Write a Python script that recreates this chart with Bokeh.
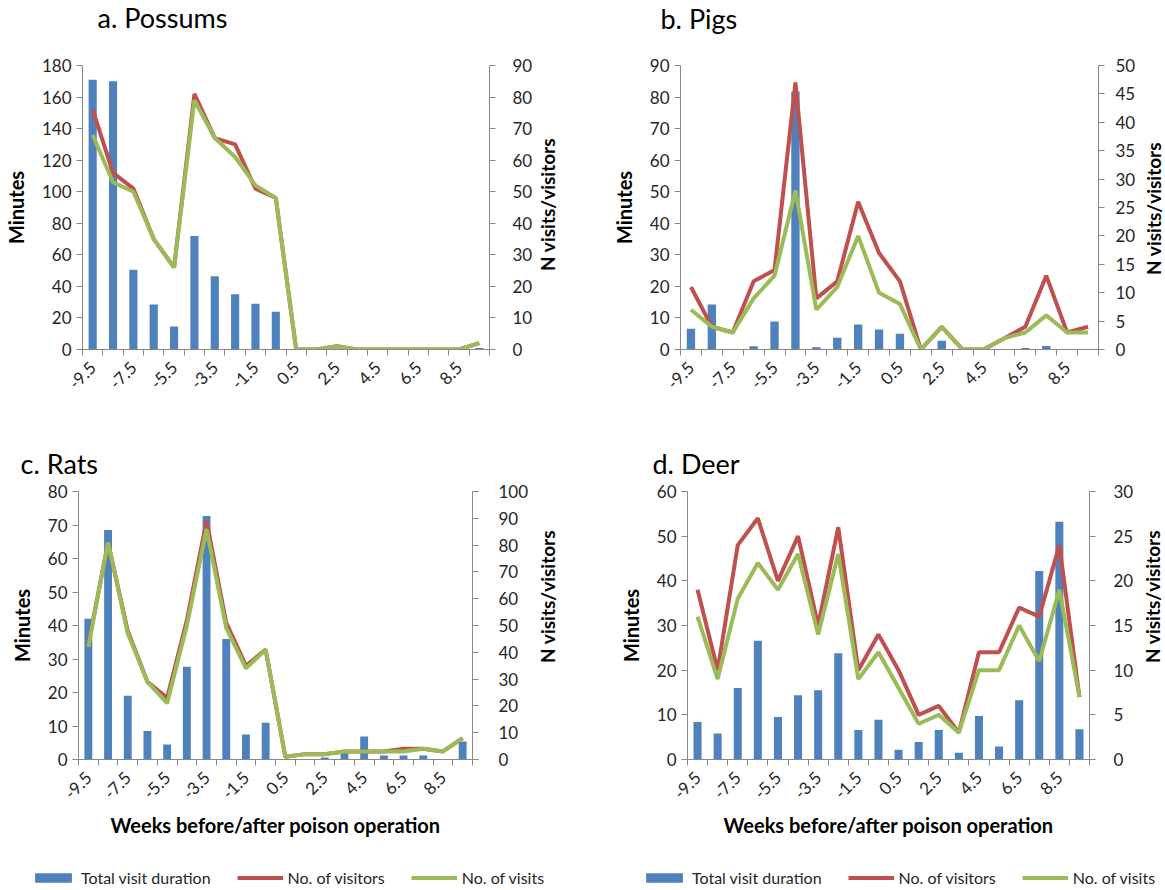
import math
from bokeh.plotting import figure
from bokeh.models import Range1d, LinearAxis, FixedTicker, Label, Legend, LegendItem
from bokeh.layouts import column, row
from bokeh.embed import file_html
from bokeh.resources import INLINE

# ---------------- data ----------------
weeks = [-9.5, -8.5, -7.5, -6.5, -5.5, -4.5, -3.5, -2.5, -1.5, -0.5,
         0.5, 1.5, 2.5, 3.5, 4.5, 5.5, 6.5, 7.5, 8.5, 9.5]
week_tick_labels = [-9.5, -7.5, -5.5, -3.5, -1.5, 0.5, 2.5, 4.5, 6.5, 8.5]
week_bounds = [-10, -9, -8, -7, -6, -5, -4, -3, -2, -1, 0,
               1, 2, 3, 4, 5, 6, 7, 8, 9, 10]

possums_minutes = [171, 170, 50.5, 28.5, 14.5, 72, 46.5, 35, 29, 24,
                   0, 0, 0, 0, 0, 0, 0, 0, 0, 1]
possums_visitors = [76, 56, 51, 35, 26, 81, 67, 65, 51, 48,
                    0, 0, 1, 0, 0, 0, 0, 0, 0, 2]
possums_visits = [68, 53, 50, 35, 26, 79, 67, 61, 52, 48,
                  0, 0, 1, 0, 0, 0, 0, 0, 0, 2]

pigs_minutes = [6.6, 14.3, 0, 1.0, 8.9, 81.8, 0.7, 3.7, 7.9, 6.3,
                5.0, 0, 2.8, 0, 0, 0, 0.5, 1.1, 0, 0]
pigs_visitors = [11, 4, 3, 12, 14, 47, 9, 12, 26, 17,
                 12, 0, 4, 0, 0, 2, 4, 13, 3, 4]
pigs_visits = [7, 4, 3, 9, 13, 28, 7, 11, 20, 10,
               8, 0, 4, 0, 0, 2, 3, 6, 3, 3]

rats_minutes = [42, 68.5, 19, 8.5, 4.5, 27.7, 72.7, 36, 7.5, 11,
                0, 0, 0.6, 2.3, 6.9, 1.2, 1.2, 1.2, 0, 5.4]
rats_visitors = [43, 81, 48, 29, 23, 52, 89, 51, 35, 41,
                 1, 2, 2, 3, 3, 3, 4, 4, 3, 8]
rats_visits = [42, 81, 47, 29, 21, 50, 86, 49, 34, 41,
               1, 2, 2, 3, 3, 3, 3, 4, 3, 8]

deer_minutes = [8.4, 5.8, 16, 26.6, 9.5, 14.4, 15.5, 23.8, 6.6, 8.9,
                2.2, 3.9, 6.6, 1.5, 9.75, 2.9, 13.25, 42.2, 53.2, 6.8]
deer_visitors = [19, 10, 24, 27, 20, 25, 15, 26, 10, 14,
                 10, 5, 6, 3, 12, 12, 17, 16, 24, 7]
deer_visits = [16, 9, 18, 22, 19, 23, 14, 23, 9, 12,
               8, 4, 5, 3, 10, 10, 15, 11, 19, 7]

panel_titles = ["a. Possums", "b. Pigs", "c. Rats", "d. Deer"]
series_names = ["Total visit duration", "No. of visitors", "No. of visits"]
left_title = "Minutes"
right_title = "N visits/visitors"
x_title = "Weeks before/after poison operation"

# ---------------- style ----------------
FONT = "Lato"
BLUE = "#4F81BD"
RED = "#C0504D"
GREEN = "#9BBB59"
AXIS_GRAY = "#888888"
TEXT = "#262626"
LW = 4


def style_axis(ax):
    ax.axis_line_color = AXIS_GRAY
    ax.major_tick_line_color = AXIS_GRAY
    ax.minor_tick_line_color = AXIS_GRAY
    ax.major_label_text_font = FONT
    ax.major_label_text_font_size = "17px"
    ax.major_label_text_color = TEXT
    ax.axis_label_text_font = FONT
    ax.axis_label_text_font_size = "20px"
    ax.axis_label_text_font_style = "bold"
    ax.axis_label_text_color = "#000000"


def bare(W, H):
    f = figure(width=W, height=H, output_backend="svg", toolbar_location=None,
               x_axis_type=None, y_axis_type=None, x_range=Range1d(-10, 10),
               y_range=Range1d(0, 1), min_border_left=0, min_border_right=0,
               min_border_top=0, min_border_bottom=0)
    f.outline_line_color = None
    f.grid.visible = False
    return f


def title_fig(W, H, text, tx, ty):
    f = bare(W, H)
    f.add_layout(Label(x=tx, y=ty, x_units="screen", y_units="screen",
                       text=text, text_font=FONT, text_font_size="27px",
                       text_color="#000000", text_baseline="alphabetic"))
    return f


def side_title_fig(W, H, tx, ty):
    f = bare(W, H)
    f.add_layout(Label(x=tx, y=ty, x_units="screen", y_units="screen",
                       text=right_title, angle=math.pi / 2,
                       text_font=FONT, text_font_size="19px", text_font_style="bold",
                       text_color="#000000", text_align="center",
                       text_baseline="middle"))
    return f


def legend_fig(W, H, dx, minutes, visitors, visits):
    # series renderers are hidden here; only their legend entries are shown
    f = bare(W, H)
    rb = f.vbar(x=weeks, top=minutes, width=0.4, fill_color=BLUE, line_color=None, visible=False)
    rr = f.line(x=weeks, y=visitors, line_color=RED, line_width=LW, visible=False)
    rg = f.line(x=weeks, y=visits, line_color=GREEN, line_width=LW, visible=False)
    leg = Legend(items=[LegendItem(label=series_names[0], renderers=[rb]),
                        LegendItem(label=series_names[1], renderers=[rr]),
                        LegendItem(label=series_names[2], renderers=[rg])],
                 location="left", orientation="horizontal",
                 padding=0, margin=dx, spacing=26, label_standoff=5,
                 glyph_width=46, glyph_height=12, label_height=12,
                 border_line_color=None, background_fill_alpha=0,
                 inactive_fill_alpha=0,
                 label_text_font=FONT, label_text_font_size="16px",
                 label_text_color=TEXT)
    f.add_layout(leg)
    return f


def panel(minutes, visitors, visits, lmax, lstep, rmax, rstep,
          W, H, fl, fr, ft, fb, with_xlabel, r_lab_so):
    p = figure(width=W, height=H, x_range=Range1d(-10, 10),
               y_range=Range1d(0, lmax), output_backend="svg",
               toolbar_location=None, x_axis_type=None, y_axis_type=None,
               min_border_left=fl, min_border_right=W - fr,
               min_border_top=ft, min_border_bottom=H - fb)
    p.outline_line_color = None
    p.extra_y_ranges = {"n": Range1d(0, rmax)}

    xa = LinearAxis(ticker=FixedTicker(ticks=week_tick_labels, minor_ticks=week_bounds))
    style_axis(xa)
    xa.major_tick_out = 0
    xa.major_tick_in = 0
    xa.minor_tick_out = 6
    xa.minor_tick_in = 0
    xa.major_label_orientation = math.pi / 4
    xa.major_label_standoff = 9
    xa.major_label_overrides = {t: str(t) for t in week_tick_labels}
    if with_xlabel:
        xa.axis_label = x_title
        xa.axis_label_standoff = 5
    p.add_layout(xa, "below")

    ya = LinearAxis(ticker=FixedTicker(ticks=list(range(0, lmax + 1, lstep))))
    style_axis(ya)
    ya.major_tick_out = 6
    ya.major_tick_in = 0
    ya.minor_tick_out = 0
    ya.minor_tick_in = 0
    ya.major_label_standoff = 5
    ya.axis_label = left_title
    ya.axis_label_standoff = 11
    p.add_layout(ya, "left")

    ra = LinearAxis(y_range_name="n", ticker=FixedTicker(ticks=list(range(0, rmax + 1, rstep))))
    style_axis(ra)
    ra.major_tick_out = 6
    ra.major_tick_in = 0
    ra.minor_tick_out = 0
    ra.minor_tick_in = 0
    ra.major_label_standoff = r_lab_so
    p.add_layout(ra, "right")

    p.vbar(x=weeks, top=minutes, width=0.4, fill_color=BLUE, line_color=None)
    p.line(x=weeks, y=visitors, y_range_name="n", line_color=RED, line_width=LW)
    p.line(x=weeks, y=visits, y_range_name="n", line_color=GREEN, line_width=LW)
    return p


# top row: titles 0-40, panels 40-430
ta = title_fig(580, 40, panel_titles[0], 97, 23)
tb = title_fig(585, 40, panel_titles[1], 80, 22)
pa = panel(possums_minutes, possums_visitors, possums_visits,
           180, 20, 90, 10, 535, 390, 79, 490, 23, 309, False, 17)
sa = side_title_fig(45, 390, 12, 145)
pb = panel(pigs_minutes, pigs_visitors, pigs_visits,
           90, 10, 50, 5, 563, 390, 100, 518, 25, 312, False, 11)
sb = side_title_fig(22, 390, 10, 141)
# bottom row: titles 430-480, panels 480-864, legend 864-890
tc = title_fig(580, 50, panel_titles[2], 20, 17)
td = title_fig(585, 50, panel_titles[3], 72, 17)
pc = panel(rats_minutes, rats_visitors, rats_visits,
           80, 10, 100, 10, 535, 384, 78, 472, 9, 279, True, 20)
sc = side_title_fig(45, 384, 12, 163)
pd = panel(deer_minutes, deer_visitors, deer_visits,
           60, 10, 30, 5, 560, 384, 107, 509, 11, 279, True, 18)
sd = side_title_fig(25, 384, 12, 163)
lc = legend_fig(580, 26, 30, rats_minutes, rats_visitors, rats_visits)
ld = legend_fig(585, 26, 61, deer_minutes, deer_visitors, deer_visits)

layout = column(row(ta, tb), row(pa, sa, pb, sb), row(tc, td),
                row(pc, sc, pd, sd), row(lc, ld))
open("out.html", "w").write(file_html(layout, INLINE))
